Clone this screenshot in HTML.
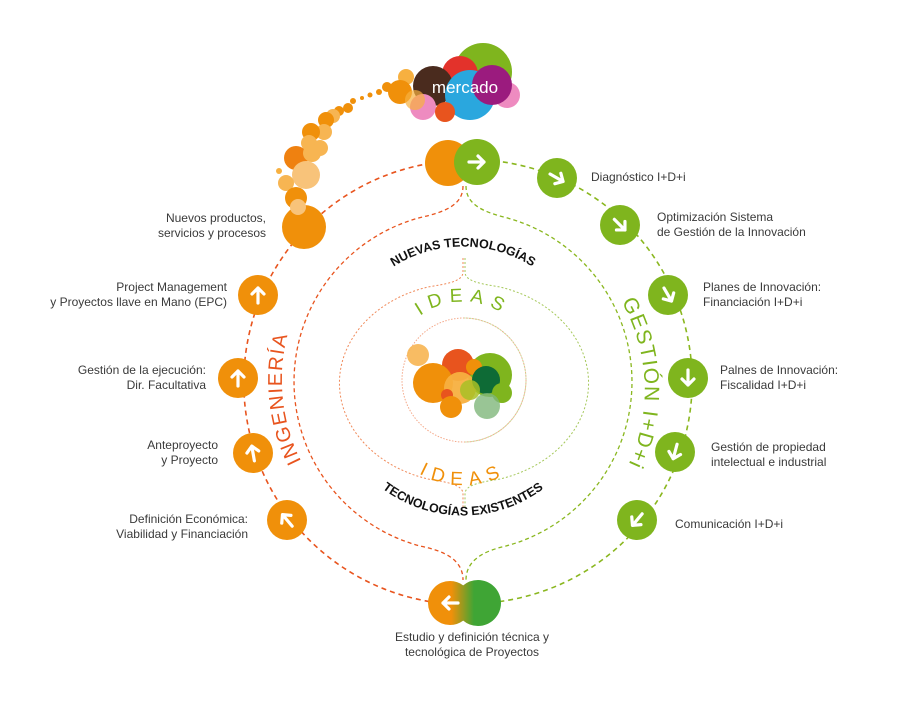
<!DOCTYPE html>
<html><head><meta charset="utf-8"><style>
html,body{margin:0;padding:0;background:#fff;}
svg{display:block;}
.t{font-family:"Liberation Sans",sans-serif;font-size:12px;fill:#3a3a3a;}
</style></head><body>
<svg width="900" height="705" viewBox="0 0 900 705" xmlns="http://www.w3.org/2000/svg">
<defs>
<linearGradient id="bg" x1="0" x2="1" y1="0" y2="0" gradientUnits="objectBoundingBox">
<stop offset="0" stop-color="#f0900a"/><stop offset="0.35" stop-color="#f0900a"/><stop offset="0.6" stop-color="#3fa535"/><stop offset="1" stop-color="#3fa535"/></linearGradient>
<clipPath id="bc"><circle cx="450" cy="603" r="22"/><circle cx="478" cy="603" r="23"/></clipPath>
<path id="pIng" d="M 374.7,537.5 A180,180 0 0 1 343.9,244.1"/>
<path id="pGes" d="M 545,229 A180,180 0 0 1 558,544"/>
<path id="pNue" d="M 345,322 A130,130 0 0 1 581,322"/>
<path id="pTec" d="M 345,445 A134,134 0 0 0 581,445"/>
<path id="pId1" d="M 395,350 A72,72 0 0 1 531,350"/>
<path id="pId2" d="M 378,420 A88,88 0 0 0 548,420"/>
<path id="arr" d="M-8,0 H7 M1,-6 L7,0 L1,6" fill="none" stroke="#fff" stroke-width="3.2" stroke-linecap="round" stroke-linejoin="round"/>
</defs>

<!-- outer ring -->
<path d="M440,162 A222,222 0 0 0 440,603" fill="none" stroke="#e8541e" stroke-width="1.6" stroke-dasharray="5,4"/>
<path d="M485,160 A222,222 0 0 1 485,603" fill="none" stroke="#8ab71f" stroke-width="1.6" stroke-dasharray="5,4"/>
<!-- middle ring -->
<path d="M463,186 C463,205 445,212 420,217.6 A170,170 0 0 0 420,546 C445,551 463,560 463,580" fill="none" stroke="#e8541e" stroke-width="1.3" stroke-dasharray="4,3"/>
<path d="M466,186 C466,205 484,212 506,217.6 A170,170 0 0 1 506,546 C484,551 466,560 466,580" fill="none" stroke="#8ab71f" stroke-width="1.3" stroke-dasharray="4,3"/>
<!-- ideas ring -->
<path d="M463,258 L463,272 C463,282 445,284 428,287 A123,100 0 0 0 428,479 C445,482 463,484 463,494 L463,508" fill="none" stroke="#f08a5a" stroke-width="1" stroke-dasharray="2,2"/>
<path d="M465,258 L465,272 C465,282 483,284 500,287 A123,100 0 0 1 500,479 C483,482 465,484 465,494 L465,508" fill="none" stroke="#a5c85a" stroke-width="1" stroke-dasharray="2,2"/>
<circle cx="464" cy="380" r="62" fill="none" stroke="#f4a98a" stroke-width="1" stroke-dasharray="1.5,1.5"/>
<path d="M464,318 A62,62 0 0 1 464,442" fill="none" stroke="#c6dc9a" stroke-width="1" stroke-dasharray="1.5,1.5"/>

<!-- center cluster -->
<g>
<circle cx="490" cy="375" r="22" fill="#7fb51e"/>
<circle cx="418" cy="355" r="11" fill="#f7b552" opacity="0.9"/>
<circle cx="458" cy="365" r="16" fill="#e8541e"/>
<circle cx="433" cy="383" r="20" fill="#f0900a"/>
<circle cx="460" cy="388" r="16" fill="#f7b040" opacity="0.95"/>
<circle cx="474" cy="367" r="8" fill="#f0900a"/>
<circle cx="486" cy="380" r="14" fill="#0e6b36"/>
<circle cx="470" cy="390" r="10" fill="#a8c026" opacity="0.85"/>
<circle cx="502" cy="393" r="10" fill="#7fb51e"/>
<circle cx="487" cy="406" r="13" fill="#7fb77a" opacity="0.8"/>
<circle cx="447" cy="395" r="6" fill="#e8541e"/>
<circle cx="451" cy="407" r="11" fill="#f0900a"/>
</g>

<!-- mercado cluster -->
<circle cx="483" cy="72" r="29" fill="#7fb51e"/>
<circle cx="460" cy="74" r="18" fill="#e3322b"/>
<circle cx="433" cy="86" r="20" fill="#4a2b1e"/>
<circle cx="507" cy="95" r="13" fill="#ee8bc0"/>
<circle cx="423" cy="107" r="13" fill="#ee8bc0"/>
<circle cx="470" cy="95" r="25" fill="#2aa7de"/>
<circle cx="492" cy="85" r="20" fill="#9b1b7e"/>
<circle cx="445" cy="112" r="10" fill="#e8541e"/>
<circle cx="406" cy="77" r="8" fill="#f7b040"/>
<circle cx="400" cy="92" r="12" fill="#f0900a"/>
<circle cx="415" cy="100" r="10" fill="#f7b040" opacity="0.7"/>
<text x="465" y="93" font-family="'Liberation Sans',sans-serif" font-size="17" fill="#fff" text-anchor="middle">mercado</text>

<!-- trail -->
<g fill="#f0900a">
<circle cx="387" cy="87" r="5"/><circle cx="379" cy="92" r="3"/><circle cx="370" cy="95" r="2.5"/><circle cx="362" cy="98" r="2"/>
<circle cx="353" cy="101" r="3"/><circle cx="348" cy="108" r="5"/><circle cx="339" cy="111" r="5"/>
<circle cx="333" cy="116" r="7" fill="#f7b552"/><circle cx="326" cy="120" r="8"/>
<circle cx="324" cy="132" r="8" fill="#f7b552"/><circle cx="311" cy="132" r="9"/>
<circle cx="320" cy="148" r="8" fill="#f7b552"/><circle cx="309" cy="143" r="8" fill="#f7b552"/>
<circle cx="296" cy="158" r="12" fill="#ef8110"/><circle cx="312" cy="153" r="9" fill="#f7b552"/>
<circle cx="306" cy="175" r="14" fill="#f8c37a"/><circle cx="286" cy="183" r="8" fill="#f7b552"/>
<circle cx="279" cy="171" r="3" fill="#f7b040"/>
<circle cx="296" cy="198" r="11"/><circle cx="304" cy="227" r="22"/><circle cx="298" cy="207" r="8" fill="#f8c37a"/>
</g>

<!-- top node -->
<circle cx="448" cy="163" r="23" fill="#f0900a"/>
<circle cx="477" cy="162" r="23" fill="#7fb51e"/>
<use href="#arr" transform="translate(477,162)"/>
<!-- bottom node -->
<rect x="420" y="575" width="90" height="55" fill="url(#bg)" clip-path="url(#bc)"/>
<use href="#arr" transform="translate(450,603) rotate(180)"/>

<!-- left nodes -->
<g fill="#f0900a">
<circle cx="258" cy="295" r="20"/><circle cx="238" cy="378" r="20"/><circle cx="253" cy="453" r="20"/><circle cx="287" cy="520" r="20"/>
</g>
<use href="#arr" transform="translate(258,295) rotate(-90)"/>
<use href="#arr" transform="translate(238,378) rotate(-90)"/>
<use href="#arr" transform="translate(253,453) rotate(-100)"/>
<use href="#arr" transform="translate(287,520) rotate(-130)"/>

<!-- right nodes -->
<g fill="#7fb51e">
<circle cx="557" cy="178" r="20"/><circle cx="620" cy="225" r="20"/><circle cx="668" cy="295" r="20"/><circle cx="688" cy="378" r="20"/><circle cx="675" cy="452" r="20"/><circle cx="637" cy="520" r="20"/>
</g>
<use href="#arr" transform="translate(557,178) rotate(30)"/>
<use href="#arr" transform="translate(620,225) rotate(45)"/>
<use href="#arr" transform="translate(668,295) rotate(60)"/>
<use href="#arr" transform="translate(688,378) rotate(90)"/>
<use href="#arr" transform="translate(675,452) rotate(105)"/>
<use href="#arr" transform="translate(637,520) rotate(130)"/>

<!-- curved labels -->
<text font-family="'Liberation Sans',sans-serif" font-size="20" fill="#e8541e" letter-spacing="1.5"><textPath href="#pIng" startOffset="50%" text-anchor="middle">INGENIERÍA</textPath></text>
<text font-family="'Liberation Sans',sans-serif" font-size="21" fill="#7fb51e" letter-spacing="1.5"><textPath href="#pGes" startOffset="50%" text-anchor="middle">GESTIÓN I+D+i</textPath></text>
<text font-family="'Liberation Sans',sans-serif" font-size="12.5" font-weight="bold" fill="#111"><textPath href="#pNue" startOffset="50%" text-anchor="middle">NUEVAS TECNOLOGÍAS</textPath></text>
<text font-family="'Liberation Sans',sans-serif" font-size="12.5" font-weight="bold" fill="#111"><textPath href="#pTec" startOffset="50%" text-anchor="middle">TECNOLOGÍAS EXISTENTES</textPath></text>
<text font-family="'Liberation Sans',sans-serif" font-size="19" fill="#7fb51e" letter-spacing="7"><textPath href="#pId1" startOffset="50%" text-anchor="middle">IDEAS</textPath></text>
<text font-family="'Liberation Sans',sans-serif" font-size="19" fill="#f0900a" letter-spacing="7"><textPath href="#pId2" startOffset="50%" text-anchor="middle">IDEAS</textPath></text>

<!-- left labels -->
<g class="t" text-anchor="end">
<text x="266" y="222">Nuevos productos,</text><text x="266" y="237">servicios y procesos</text>
<text x="227" y="291">Project Management</text><text x="227" y="306">y Proyectos llave en Mano (EPC)</text>
<text x="206" y="374">Gestión de la ejecución:</text><text x="206" y="389">Dir. Facultativa</text>
<text x="218" y="449">Anteproyecto</text><text x="218" y="464">y Proyecto</text>
<text x="248" y="523">Definición Económica:</text><text x="248" y="538">Viabilidad y Financiación</text>
</g>
<!-- right labels -->
<g class="t">
<text x="591" y="181">Diagnóstico I+D+i</text>
<text x="657" y="221">Optimización Sistema</text><text x="657" y="236">de Gestión de la Innovación</text>
<text x="703" y="291">Planes de Innovación:</text><text x="703" y="306">Financiación I+D+i</text>
<text x="720" y="374">Palnes de Innovación:</text><text x="720" y="389">Fiscalidad I+D+i</text>
<text x="711" y="451">Gestión de propiedad</text><text x="711" y="466">intelectual e industrial</text>
<text x="675" y="528">Comunicación I+D+i</text>
</g>
<g class="t" text-anchor="middle">
<text x="472" y="641">Estudio y definición técnica y</text><text x="472" y="656">tecnológica de Proyectos</text>
</g>
</svg>
</body></html>
